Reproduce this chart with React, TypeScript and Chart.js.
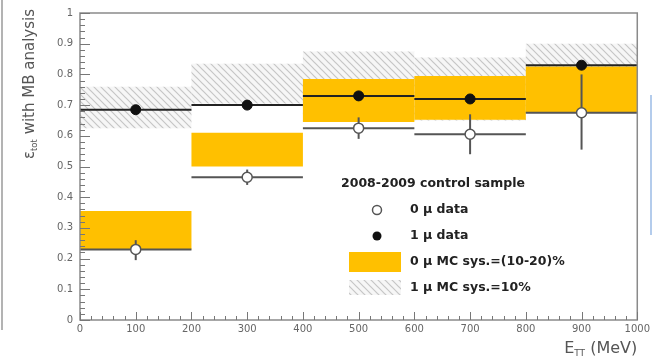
import React, { useEffect, useRef } from "react";
import { Chart, registerables } from "chart.js";

Chart.register(...registerables);

// ---- data ----
const binCenters = [100, 300, 500, 700, 900];
const binHalfWidth = 100;
const mu1Values = [0.685, 0.7, 0.73, 0.72, 0.83];
const mu1ErrUp = [0.01, 0.01, 0.01, 0.012, 0.012];
const mu1ErrDown = [0.01, 0.01, 0.01, 0.012, 0.012];
const mu0Values = [0.23, 0.465, 0.625, 0.605, 0.675];
const mu0ErrUp = [0.03, 0.025, 0.035, 0.065, 0.125];
const mu0ErrDown = [0.035, 0.025, 0.035, 0.065, 0.12];
const mc0Low = [0.23, 0.5, 0.645, 0.652, 0.675];
const mc0High = [0.355, 0.61, 0.785, 0.795, 0.826];
const mc1Low = [0.625, 0.705, 0.66, 0.65, 0.74];
const mc1High = [0.76, 0.835, 0.875, 0.855, 0.9];
const xTickValues = [0, 100, 200, 300, 400, 500, 600, 700, 800, 900, 1000];
const yTickValues = [0, 0.1, 0.2, 0.3, 0.4, 0.5, 0.6, 0.7, 0.8, 0.9, 1];
const xMinorStep = 20;
const yMinorStep = 0.02;
const legendTitle = "2008-2009 control sample";
const legendLabels = ["0 \u03bc data", "1 \u03bc data", "0 \u03bc MC sys.=(10-20)%", "1 \u03bc MC sys.=10%"];
const yTitleMain = "\u03b5";
const yTitleSub = "tot";
const yTitleRest = " with MB analysis";
const xTitleMain = "E";
const xTitleSub = "TT";
const xTitleRest = " (MeV)";

const FONT = '"DejaVu Sans", "Liberation Sans", Arial, sans-serif';
const YELLOW = "#FFC000";
const TEXT_GRAY = "#666";

function makeHatch(ctx: CanvasRenderingContext2D): CanvasPattern | string {
  const pc = document.createElement("canvas");
  pc.width = 7;
  pc.height = 7;
  const g = pc.getContext("2d");
  if (!g) return "#ddd";
  g.fillStyle = "rgba(240,240,240,0.6)";
  g.fillRect(0, 0, 7, 7);
  g.strokeStyle = "rgba(150,150,150,0.5)";
  g.lineWidth = 1.2;
  g.beginPath();
  g.moveTo(-1, -1);
  g.lineTo(8, 8);
  g.moveTo(-4.5, 2.5);
  g.lineTo(4.5, 11.5);
  g.moveTo(2.5, -4.5);
  g.lineTo(11.5, 4.5);
  g.stroke();
  return ctx.createPattern(pc, "repeat") || "#ddd";
}

export default function App() {
  const ref = useRef<HTMLCanvasElement | null>(null);

  useEffect(() => {
    document.body.style.margin = "0";
    const canvas = ref.current;
    if (!canvas) return;
    const ctx0 = canvas.getContext("2d");
    if (!ctx0) return;
    const hatch = makeHatch(ctx0);

    const drawSubText = (
      ctx: CanvasRenderingContext2D,
      main: string,
      sub: string,
      rest: string,
      size: number,
      subSize: number,
      subShift: number
    ) => {
      ctx.font = `${size}px ${FONT}`;
      const w1 = ctx.measureText(main).width;
      const w3 = ctx.measureText(rest).width;
      ctx.font = `${subSize}px ${FONT}`;
      const w2 = ctx.measureText(sub).width;
      return {
        w: w1 + w2 + w3,
        draw: (x: number, y: number) => {
          ctx.textAlign = "left";
          ctx.textBaseline = "alphabetic";
          ctx.font = `${size}px ${FONT}`;
          ctx.fillText(main, x, y);
          ctx.font = `${subSize}px ${FONT}`;
          ctx.fillText(sub, x + w1, y + subShift);
          ctx.font = `${size}px ${FONT}`;
          ctx.fillText(rest, x + w1 + w2, y);
        },
      };
    };

    const physPlugin = {
      id: "phys",
      beforeDraw(chart: any) {
        const c = chart.ctx;
        c.save();
        c.fillStyle = "#fff";
        c.fillRect(0, 0, chart.width, chart.height);
        c.restore();
      },
      afterDatasetDraw(chart: any, args: any) {
        if (args.index !== 1) return;
        const c = chart.ctx;
        const xs = chart.scales.x;
        const ys = chart.scales.y;
        c.save();
        c.lineCap = "butt";
        binCenters.forEach((xc, i) => {
          const x0 = xs.getPixelForValue(xc - binHalfWidth);
          const x1 = xs.getPixelForValue(xc + binHalfWidth);
          c.lineWidth = 2;
          c.strokeStyle = "#555";
          const y0 = ys.getPixelForValue(mu0Values[i]);
          c.beginPath();
          c.moveTo(x0, y0);
          c.lineTo(x1, y0);
          c.stroke();
          c.strokeStyle = "#222";
          const y1 = ys.getPixelForValue(mu1Values[i]);
          c.beginPath();
          c.moveTo(x0, y1);
          c.lineTo(x1, y1);
          c.stroke();
          const px = xs.getPixelForValue(xc);
          c.strokeStyle = "#555";
          c.beginPath();
          c.moveTo(px, ys.getPixelForValue(mu0Values[i] - mu0ErrDown[i]));
          c.lineTo(px, ys.getPixelForValue(mu0Values[i] + mu0ErrUp[i]));
          c.stroke();
          c.strokeStyle = "#222";
          c.beginPath();
          c.moveTo(px, ys.getPixelForValue(mu1Values[i] - mu1ErrDown[i]));
          c.lineTo(px, ys.getPixelForValue(mu1Values[i] + mu1ErrUp[i]));
          c.stroke();
        });
        c.restore();
      },
      afterDraw(chart: any) {
        const c = chart.ctx;
        const xs = chart.scales.x;
        const ys = chart.scales.y;
        const a = chart.chartArea;
        c.save();
        // frame
        c.strokeStyle = "#8a8a8a";
        c.lineWidth = 1.5;
        c.strokeRect(a.left, a.top, a.right - a.left, a.bottom - a.top);
        // ticks inside
        c.lineWidth = 1;
        c.strokeStyle = "#777";
        c.beginPath();
        const nx = Math.round((xs.max - xs.min) / xMinorStep);
        for (let i = 0; i <= nx; i++) {
          const v = xs.min + i * xMinorStep;
          const px = Math.round(xs.getPixelForValue(v)) + 0.5;
          const major = i % 5 === 0;
          c.moveTo(px, a.bottom);
          c.lineTo(px, a.bottom - (major ? 8 : 4));
        }
        const ny = Math.round((ys.max - ys.min) / yMinorStep);
        for (let i = 0; i <= ny; i++) {
          const v = ys.min + i * yMinorStep;
          const py = Math.round(ys.getPixelForValue(v)) + 0.5;
          const major = i % 5 === 0;
          c.moveTo(a.left, py);
          c.lineTo(a.left + (major ? 10 : 5), py);
        }
        c.stroke();

        // y title (rotated, right-aligned to top)
        c.fillStyle = "#555";
        c.save();
        c.translate(34, 9);
        c.rotate(-Math.PI / 2);
        const yt = drawSubText(c, yTitleMain, yTitleSub, yTitleRest, 15, 8.5, 3);
        yt.draw(-yt.w, 0);
        c.restore();

        // x title
        const xt = drawSubText(c, xTitleMain, xTitleSub, xTitleRest, 16, 9, 3);
        xt.draw(a.right - xt.w, 353);

        // legend
        c.fillStyle = "#222";
        c.textAlign = "left";
        c.textBaseline = "middle";
        c.font = `bold 12.5px ${FONT}`;
        c.fillText(legendTitle, 341, 184);
        const lx = 410;
        const rows = [210, 236, 262, 288];
        c.beginPath();
        c.arc(377, rows[0], 4.5, 0, Math.PI * 2);
        c.fillStyle = "#fff";
        c.fill();
        c.strokeStyle = "#555";
        c.lineWidth = 1.5;
        c.stroke();
        c.beginPath();
        c.arc(377, rows[1], 4.5, 0, Math.PI * 2);
        c.fillStyle = "#111";
        c.fill();
        c.fillStyle = YELLOW;
        c.fillRect(349, rows[2] - 10, 52, 20);
        c.fillStyle = hatch as any;
        c.fillRect(349, rows[3] - 8, 52, 15);
        c.fillStyle = "#222";
        c.font = `bold 12.5px ${FONT}`;
        legendLabels.forEach((t, i) => c.fillText(t, lx, rows[i]));

        // decorative borders of the picture
        c.strokeStyle = "#9a9a9a";
        c.lineWidth = 1.5;
        c.beginPath();
        c.moveTo(2, 0);
        c.lineTo(2, 330);
        c.stroke();
        c.strokeStyle = "#9bbbe6";
        c.beginPath();
        c.moveTo(651, 95);
        c.lineTo(651, 235);
        c.stroke();
        c.restore();
      },
    };

    const chart = new Chart(canvas, {
      type: "bar",
      data: {
        datasets: [
          {
            type: "bar",
            label: legendLabels[3],
            data: binCenters.map((x, i) => ({ x, y: [mc1Low[i], mc1High[i]] })) as any,
            backgroundColor: hatch as any,
            borderWidth: 0,
            grouped: false,
            barPercentage: 1,
            categoryPercentage: 2,
            order: 4,
          } as any,
          {
            type: "bar",
            label: legendLabels[2],
            data: binCenters.map((x, i) => ({ x, y: [mc0Low[i], mc0High[i]] })) as any,
            backgroundColor: YELLOW,
            borderWidth: 0,
            grouped: false,
            barPercentage: 1,
            categoryPercentage: 2,
            order: 3,
          } as any,
          {
            type: "scatter",
            label: legendLabels[0],
            data: binCenters.map((x, i) => ({ x, y: mu0Values[i] })),
            pointRadius: 5,
            pointBackgroundColor: "#fff",
            pointBorderColor: "#555",
            pointBorderWidth: 1.5,
            order: 1,
          } as any,
          {
            type: "scatter",
            label: legendLabels[1],
            data: binCenters.map((x, i) => ({ x, y: mu1Values[i] })),
            pointRadius: 5,
            pointBackgroundColor: "#111",
            pointBorderColor: "#111",
            pointBorderWidth: 1,
            order: 0,
          } as any,
        ],
      },
      options: {
        animation: false,
        responsive: false,
        maintainAspectRatio: false,
        layout: { padding: { top: 10, right: 11, left: 0, bottom: 0 } },
        plugins: { legend: { display: false }, tooltip: { enabled: false } },
        scales: {
          x: {
            type: "linear",
            min: 0,
            max: 1000,
            offset: false,
            afterBuildTicks: (s: any) => {
              s.ticks = xTickValues.map((v) => ({ value: v }));
            },
            afterFit: (s: any) => {
              s.height = 40;
            },
            grid: { display: false, drawTicks: false },
            border: { display: false },
            ticks: {
              padding: 3,
              color: TEXT_GRAY,
              font: { size: 10, family: FONT },
              maxRotation: 0,
              autoSkip: false,
              callback: (v: any) => String(v),
            },
          },
          y: {
            type: "linear",
            min: 0,
            max: 1,
            afterBuildTicks: (s: any) => {
              s.ticks = yTickValues.map((v) => ({ value: v }));
            },
            afterFit: (s: any) => {
              s.width = 80;
            },
            grid: { display: false, drawTicks: false },
            border: { display: false },
            ticks: {
              padding: 7,
              color: TEXT_GRAY,
              font: { size: 10, family: FONT },
              autoSkip: false,
              callback: (v: any) => {
                const n = Number(v);
                if (n === 0) return "0";
                if (n === 1) return "1";
                return n.toFixed(1);
              },
            },
          },
        },
      } as any,
      plugins: [physPlugin],
    });

    return () => chart.destroy();
  }, []);

  return (
    <div style={{ width: 653, height: 360, position: "relative", background: "#fff" }}>
      <canvas ref={ref} width={653} height={360} style={{ display: "block", width: 653, height: 360 }} />
    </div>
  );
}
